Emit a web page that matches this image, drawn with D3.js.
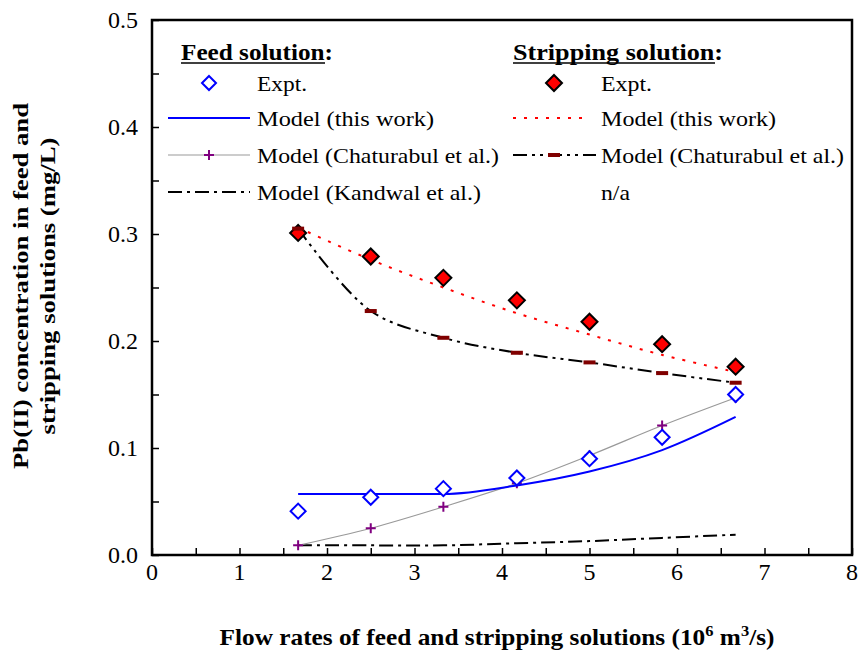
<!DOCTYPE html>
<html>
<head>
<meta charset="utf-8">
<script src="https://cdn.jsdelivr.net/npm/d3@7"></script>
<style>
  html, body { margin: 0; padding: 0; background: #fff; }
  svg { display: block; font-family: "Liberation Serif", "Times New Roman", serif; }
</style>
</head>
<body>
<svg id="chart" width="859" height="655"></svg>
<script>
// Flow rates (10^6 m^3/s)
const flowRates = [1.67, 2.5, 3.33, 4.17, 5.0, 5.83, 6.67];

// Feed solution Pb(II) concentration (mg/L)
const feedExpt       = [0.041, 0.054, 0.062, 0.072, 0.090, 0.110, 0.150];
const feedModel      = [0.057, 0.057, 0.057, 0.065, 0.078, 0.098, 0.129];
const feedChaturabul = [0.009, 0.025, 0.045, 0.067, 0.093, 0.121, 0.147];
const feedKandwal    = [0.009, 0.009, 0.009, 0.011, 0.013, 0.016, 0.019];

// Stripping solution Pb(II) concentration (mg/L)
const stripExpt       = [0.301, 0.279, 0.259, 0.238, 0.218, 0.197, 0.176];
const stripModel      = [0.306, 0.276, 0.250, 0.226, 0.206, 0.187, 0.171];
const stripChaturabul = [0.305, 0.228, 0.203, 0.189, 0.180, 0.170, 0.161];

const xTicks = [0, 1, 2, 3, 4, 5, 6, 7, 8];
const yTicks = [0.0, 0.1, 0.2, 0.3, 0.4, 0.5];

const svg = d3.select("#chart");
const plot = { left: 152, right: 852, top: 20, bottom: 555 };

const x = d3.scaleLinear().domain([0, 8]).range([plot.left, plot.right]);
const y = d3.scaleLinear().domain([0, 0.5]).range([plot.bottom, plot.top]);

// Frame
svg.append("rect")
  .attr("x", plot.left).attr("y", plot.top)
  .attr("width", plot.right - plot.left).attr("height", plot.bottom - plot.top)
  .attr("fill", "none").attr("stroke", "#000").attr("stroke-width", 2.5);

// Axes with inward ticks
const xAxis = svg.append("g").attr("transform", `translate(0,${plot.bottom})`)
  .call(d3.axisBottom(x).tickValues(d3.range(0, 8.01, 0.5)).tickSize(-7).tickFormat(""));
xAxis.select(".domain").remove();
xAxis.selectAll("line").attr("stroke", "#000").attr("stroke-width", 1.5);

svg.append("g").selectAll("text").data(xTicks).join("text")
  .attr("x", d => x(d)).attr("y", 580)
  .attr("text-anchor", "middle").attr("font-size", 24)
  .text(d => d);

const yAxis = svg.append("g").attr("transform", `translate(${plot.left},0)`)
  .call(d3.axisLeft(y).tickValues(d3.range(0, 0.501, 0.05)).tickSize(-7).tickFormat(""));
yAxis.select(".domain").remove();
yAxis.selectAll("line").attr("stroke", "#000").attr("stroke-width", 1.5);

svg.append("g").selectAll("text").data(yTicks).join("text")
  .attr("x", 138).attr("y", d => y(d) + 8)
  .attr("text-anchor", "end").attr("font-size", 24)
  .text(d => d.toFixed(1));

// Axis titles
svg.append("text")
  .attr("x", 497).attr("y", 645)
  .attr("text-anchor", "middle").attr("font-size", 23).attr("font-weight", "bold")
  .attr("textLength", 555).attr("lengthAdjust", "spacingAndGlyphs")
  .html('Flow rates of feed and stripping solutions (10<tspan dy="-9" font-size="15">6</tspan><tspan dy="9"> m</tspan><tspan dy="-9" font-size="15">3</tspan><tspan dy="9">/s)</tspan>');

const yTitle = svg.append("g").attr("transform", "translate(0,286) rotate(-90)");
yTitle.append("text").attr("x", 0).attr("y", 28)
  .attr("text-anchor", "middle").attr("font-size", 22).attr("font-weight", "bold")
  .attr("textLength", 366).attr("lengthAdjust", "spacingAndGlyphs")
  .text("Pb(II) concentration in feed and");
yTitle.append("text").attr("x", 0).attr("y", 55)
  .attr("text-anchor", "middle").attr("font-size", 22).attr("font-weight", "bold")
  .attr("textLength", 297).attr("lengthAdjust", "spacingAndGlyphs")
  .text("stripping solutions (mg/L)");

const pts = ys => flowRates.map((f, i) => [f, ys[i]]);
const smooth = d3.line().x(d => x(d[0])).y(d => y(d[1])).curve(d3.curveCatmullRom.alpha(0.5));

// Feed: Kandwal model
svg.append("path").attr("d", smooth(pts(feedKandwal)))
  .attr("fill", "none").attr("stroke", "#000").attr("stroke-width", 2)
  .attr("stroke-dasharray", "14,5,3,5");

// Feed: Chaturabul model
svg.append("path").attr("d", smooth(pts(feedChaturabul)))
  .attr("fill", "none").attr("stroke", "#999").attr("stroke-width", 1.2);
svg.append("g").selectAll("path").data(pts(feedChaturabul)).join("path")
  .attr("d", d => `M${x(d[0]) - 5},${y(d[1])}h10M${x(d[0])},${y(d[1]) - 5}v10`)
  .attr("stroke", "#800080").attr("stroke-width", 2);

// Feed: model (this work)
svg.append("path").attr("d", d3.line().x(d => x(d[0])).y(d => y(d[1])).curve(d3.curveMonotoneX)(pts(feedModel)))
  .attr("fill", "none").attr("stroke", "#0000ff").attr("stroke-width", 2);

// Feed: experimental
const diamond = (cx, cy, r) => `M${cx},${cy - r}L${cx + r},${cy}L${cx},${cy + r}L${cx - r},${cy}Z`;
svg.append("g").selectAll("path").data(pts(feedExpt)).join("path")
  .attr("d", d => diamond(x(d[0]), y(d[1]), 7.5))
  .attr("fill", "#fff").attr("stroke", "#0000ff").attr("stroke-width", 2);

// Stripping: Chaturabul model
svg.append("path").attr("d", smooth(pts(stripChaturabul)))
  .attr("fill", "none").attr("stroke", "#000").attr("stroke-width", 2)
  .attr("stroke-dasharray", "14,5,3,5,3,5");

// Stripping: model (this work)
svg.append("path").attr("d", smooth(pts(stripModel)))
  .attr("fill", "none").attr("stroke", "#ff0000").attr("stroke-width", 2)
  .attr("stroke-dasharray", "3,8");

// Stripping: experimental
svg.append("g").selectAll("path").data(pts(stripExpt)).join("path")
  .attr("d", d => diamond(x(d[0]), y(d[1]), 8))
  .attr("fill", "#ff0000").attr("stroke", "#000").attr("stroke-width", 2);

svg.append("g").selectAll("rect").data(pts(stripChaturabul)).join("rect")
  .attr("x", d => x(d[0]) - 6).attr("y", d => y(d[1]) - 2)
  .attr("width", 12).attr("height", 4).attr("fill", "#800000");

// Legend
const legend = svg.append("g").attr("font-size", 22);

function header(xp, yp, label, w) {
  legend.append("text").attr("x", xp).attr("y", yp).attr("font-weight", "bold")
    .attr("font-size", 23)
    .attr("textLength", w).attr("lengthAdjust", "spacingAndGlyphs").text(label);
  legend.append("line").attr("x1", xp).attr("x2", xp + w - 8).attr("y1", yp + 3).attr("y2", yp + 3)
    .attr("stroke", "#000").attr("stroke-width", 1.5);
}
header(181, 60, "Feed solution:", 152);
header(513, 60, "Stripping solution:", 210);

function item(xp, yp, label, w) {
  legend.append("text").attr("x", xp).attr("y", yp + 8)
    .attr("textLength", w).attr("lengthAdjust", "spacingAndGlyphs").text(label);
}
const rows = [83, 118, 155, 192];

// Feed entries
legend.append("path").attr("d", diamond(209, rows[0], 7))
  .attr("fill", "#fff").attr("stroke", "#0000ff").attr("stroke-width", 2);
item(257, rows[0], "Expt.", 50);
legend.append("line").attr("x1", 168).attr("x2", 250).attr("y1", rows[1]).attr("y2", rows[1])
  .attr("stroke", "#0000ff").attr("stroke-width", 2);
item(257, rows[1], "Model (this work)", 177);
legend.append("line").attr("x1", 168).attr("x2", 250).attr("y1", rows[2]).attr("y2", rows[2])
  .attr("stroke", "#999").attr("stroke-width", 1.2);
legend.append("path").attr("d", `M${209 - 5},${rows[2]}h10M209,${rows[2] - 5}v10`)
  .attr("stroke", "#800080").attr("stroke-width", 2);
item(257, rows[2], "Model (Chaturabul et al.)", 242);
legend.append("line").attr("x1", 168).attr("x2", 250).attr("y1", rows[3]).attr("y2", rows[3])
  .attr("stroke", "#000").attr("stroke-width", 2).attr("stroke-dasharray", "14,5,3,5");
item(257, rows[3], "Model (Kandwal et al.)", 224);

// Stripping entries
legend.append("path").attr("d", diamond(554, rows[0], 8))
  .attr("fill", "#ff0000").attr("stroke", "#000").attr("stroke-width", 2);
item(601, rows[0], "Expt.", 51);
legend.append("line").attr("x1", 513).attr("x2", 590).attr("y1", rows[1]).attr("y2", rows[1])
  .attr("stroke", "#ff0000").attr("stroke-width", 2).attr("stroke-dasharray", "3,8");
item(601, rows[1], "Model (this work)", 175);
legend.append("line").attr("x1", 513).attr("x2", 596).attr("y1", rows[2]).attr("y2", rows[2])
  .attr("stroke", "#000").attr("stroke-width", 2).attr("stroke-dasharray", "14,5,3,5,3,5");
legend.append("rect").attr("x", 548).attr("y", rows[2] - 2).attr("width", 12).attr("height", 4)
  .attr("fill", "#800000");
item(601, rows[2], "Model (Chaturabul et al.)", 243);
item(601, rows[3], "n/a", 29);
</script>
</body>
</html>
